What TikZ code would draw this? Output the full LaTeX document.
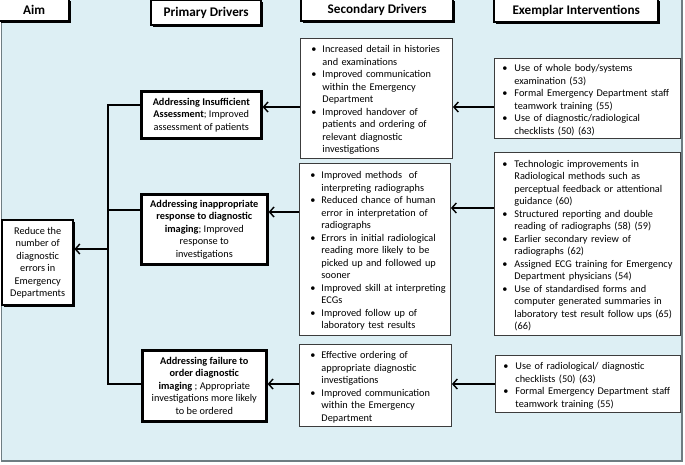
\documentclass[tikz,border=0pt]{standalone}
\usepackage{fontspec}
\setmainfont{Carlito}
\usetikzlibrary{arrows.meta,shadows}
\definecolor{bgblue}{RGB}{221,239,244}
\definecolor{bggray}{RGB}{110,125,130}
\definecolor{boxgray}{RGB}{60,60,60}
\newlength\bpre
\newlength\bgap
\newlength\bwid
\newcommand{\bi}[1]{\par\noindent\hspace*{\bpre}\makebox[\bgap][l]{\textbullet}\parbox[t]{\bwid}{\raggedright\strut #1\strut}\par\prevdepth=\dp\strutbox}
\begin{document}
\begin{tikzpicture}[x=1pt,y=-1pt,
  hdr/.style={draw=black, line width=2.4pt, fill=white, inner sep=0pt, anchor=north west,
    font=\fontsize{13.2}{15}\selectfont\bfseries,
    drop shadow={shadow xshift=1.4pt, shadow yshift=-1.4pt, fill=black, opacity=1}},
  pbox/.style={draw=black, line width=2.6pt, fill=white, inner sep=0pt, anchor=north west,
    align=center, font=\fontsize{10.3}{12.5}\selectfont},
  abox/.style={pbox, line width=2.4pt,
    drop shadow={shadow xshift=1.4pt, shadow yshift=-1.4pt, fill=black, opacity=1}},
  sbox/.style={draw=boxgray, line width=0.9pt, fill=white, inner xsep=0pt, inner ysep=0pt,
    anchor=north west, font=\fontsize{10.3}{12.5}\selectfont},
  link/.style={line width=1.8pt, black},
  conn/.style={link, -{Straight Barb[length=4.5pt,width=10pt,line width=1.4pt]}}
]
\useasboundingbox (0,0) rectangle (685,464);
\fill[white] (0,0) rectangle (685,464);
\fill[bgblue] (1,-10) rectangle (682,461);
\draw[bggray, line width=1.3pt] (1.2,-10) -- (1.2,461) -- (682,461) -- (682,-10);

% headers
\node[hdr, minimum width=70, minimum height=22] (haim) at (-2,-2) {Aim};
\node[hdr, minimum width=110, minimum height=25] (hpri) at (150,-1) {Primary Drivers};
\node[hdr, minimum width=152, minimum height=22] (hsec) at (300,-2) {Secondary Drivers};
\node[hdr, minimum width=164, minimum height=23] (hex) at (493,-2) {Exemplar Interventions};

% aim
\node[abox, minimum width=71, minimum height=85] (aim) at (1,219)
  {Reduce the\\number of\\diagnostic\\errors in\\Emergency\\Departments};

% primary drivers
\node[pbox, minimum width=120, minimum height=47] (pri1) at (140,90)
  {\textbf{Addressing Insufficient}\\\textbf{Assessment}; Improved\\assessment of patients};
\node[pbox, minimum width=126, minimum height=70] (pri2) at (140,193)
  {\textbf{Addressing inappropriate}\\\textbf{response to diagnostic}\\\textbf{imaging}; Improved\\response to\\investigations};
\node[pbox, minimum width=124, minimum height=71] (pri3) at (141,349)
  {\textbf{Addressing failure to}\\\textbf{order diagnostic}\\\textbf{imaging} ; Appropriate\\investigations more likely\\to be ordered};

% secondary drivers
\setlength\bpre{11pt}\setlength\bgap{11pt}\setlength\bwid{128pt}
\node[sbox, text width=152, minimum height=120] (sec1) at (300,38)
  {\bi{Increased detail in histories\\and examinations}
   \bi{Improved communication\\within the Emergency\\Department}
   \bi{Improved handover of\\patients and ordering of\\relevant diagnostic\\investigations}};
\node[sbox, text width=151, minimum height=172] (sec2) at (299,163)
  {\bi{Improved methods\ \ of\\interpreting radiographs}
   \bi{Reduced chance of human\\error in interpretation of\\radiographs}
   \bi{Errors in initial radiological\\reading more likely to be\\picked up and followed up\\sooner}
   \bi{Improved skill at interpreting\\ECGs}
   \bi{Improved follow up of\\laboratory test results}};
\node[sbox, text width=152, minimum height=82] (sec3) at (299,344)
  {\bi{Effective ordering of\\appropriate diagnostic\\investigations}
   \bi{Improved communication\\within the Emergency\\Department}};

% exemplar interventions
\setlength\bpre{8pt}\setlength\bgap{12pt}\setlength\bwid{164pt}
\node[sbox, text width=186, minimum height=80] (ex1) at (494,58)
  {\bi{Use of whole body/systems\\examination (53)}
   \bi{Formal Emergency Department staff\\teamwork training (55)}
   \bi{Use of diagnostic/radiological\\checklists (50) (63)}};
\node[sbox, text width=186, minimum height=183] (ex2) at (494,152)
  {\bi{Technologic improvements in\\Radiological methods such as\\perceptual feedback or attentional\\guidance (60)}
   \bi{Structured reporting and double\\reading of radiographs (58) (59)}
   \bi{Earlier secondary review of\\radiographs (62)}
   \bi{Assigned ECG training for Emergency\\Department physicians (54)}
   \bi{Use of standardised forms and\\computer generated summaries in\\laboratory test result follow ups (65)\\(66)}};
\node[sbox, text width=185, minimum height=57] (ex3) at (495,355)
  {\bi{Use of radiological/ diagnostic\\checklists (50) (63)}
   \bi{Formal Emergency Department staff\\teamwork training (55)}};

% connectors
\coordinate (a1) at (0,107);
\coordinate (a2) at (0,208);
\coordinate (b2) at (0,212);
\coordinate (a3) at (0,384);
\draw[conn] (ex1.west|-a1) -- (sec1.east|-a1);
\draw[conn] (sec1.west|-a1) -- (pri1.east|-a1);
\draw[conn] (ex2.west|-a2) -- (sec2.east|-a2);
\draw[conn] (sec2.west|-b2) -- (pri2.east|-b2);
\draw[conn] (ex3.west|-a3) -- (sec3.east|-a3);
\draw[conn] (sec3.west|-a3) -- (pri3.east|-a3);

\coordinate (t1) at (108,105);
\coordinate (t2) at (108,210);
\coordinate (t3) at (108,384);
\coordinate (tm) at (108,249);
\draw[link, line join=miter] (pri1.west|-t1) -- (t1) -- (t3) -- (pri3.west|-t3);
\draw[link] (t2) -- (pri2.west|-t2);
\draw[conn] (tm) -- (aim.east|-tm);
\end{tikzpicture}
\end{document}
